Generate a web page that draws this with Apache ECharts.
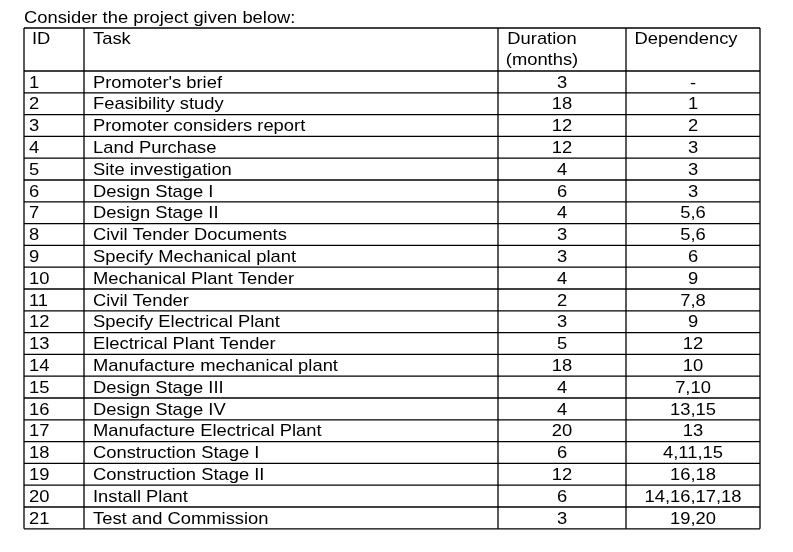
<!DOCTYPE html>
<html>
<head>
<meta charset="utf-8">
<script src="https://cdn.jsdelivr.net/npm/echarts@6/dist/echarts.min.js"></script>
<style>html,body{margin:0;padding:0;background:#fff}#main{width:793px;height:552px}</style>
</head>
<body>
<div id="main"></div>
<script>
// table data
var ids = ['1','2','3','4','5','6','7','8','9','10','11','12','13','14','15','16','17','18','19','20','21'];
var tasks = ["Promoter's brief", 'Feasibility study', 'Promoter considers report', 'Land Purchase',
  'Site investigation', 'Design Stage I', 'Design Stage II', 'Civil Tender Documents',
  'Specify Mechanical plant', 'Mechanical Plant Tender', 'Civil Tender', 'Specify Electrical Plant',
  'Electrical Plant Tender', 'Manufacture mechanical plant', 'Design Stage III', 'Design Stage IV',
  'Manufacture Electrical Plant', 'Construction Stage I', 'Construction Stage II', 'Install Plant',
  'Test and Commission'];
var durations = [3, 18, 12, 12, 4, 6, 4, 3, 3, 4, 2, 3, 5, 18, 4, 4, 20, 6, 12, 6, 3];
var dependencies = ['-', '1', '2', '3', '3', '3', '5,6', '5,6', '6', '9', '7,8', '9', '12', '10',
  '7,10', '13,15', '13', '4,11,15', '16,18', '14,16,17,18', '19,20'];

var myChart = echarts.init(document.getElementById('main'));

var colX = [24, 84, 498, 626, 760];
var top0 = 28, headBottom = 71, rowH = 21.8;
var bottom = headBottom + rowH * ids.length;
var font = '17px "Liberation Sans", Arial, sans-serif';
var g = [];

function line(x1, y1, x2, y2) {
  g.push({type: 'line', shape: {x1: x1, y1: y1, x2: x2, y2: y2}, style: {stroke: '#000', lineWidth: 1.3}});
}
function text(t, x, y, align) {
  // reference glyphs are a bit wider than Liberation Sans
  g.push({type: 'text', x: x, y: y, scaleX: 1.08,
    style: {text: t, font: font, fill: '#000', align: align, verticalAlign: 'middle'}});
}

text('Consider the project given below:', 24, 18, 'left');

// grid
line(colX[0], top0, colX[4], top0);
line(colX[0], headBottom, colX[4], headBottom);
for (var i = 1; i <= ids.length; i++) line(colX[0], headBottom + rowH * i, colX[4], headBottom + rowH * i);
colX.forEach(function (x) { line(x, top0, x, bottom); });

// header
text('ID', 32, 39, 'left');
text('Task', 93, 39, 'left');
text('Duration', 542, 39, 'center');
text('(months)', 542, 60, 'center');
text('Dependency', 686, 39, 'center');

// rows
ids.forEach(function (id, i) {
  var y = headBottom + rowH * i + rowH / 2 + 1;
  text(id, 29, y, 'left');
  text(tasks[i], 93, y, 'left');
  text(String(durations[i]), 562, y, 'center');
  text(dependencies[i], 693, y, 'center');
});

var option = { animation: false, graphic: g };
myChart.setOption(option);
</script>
</body>
</html>
